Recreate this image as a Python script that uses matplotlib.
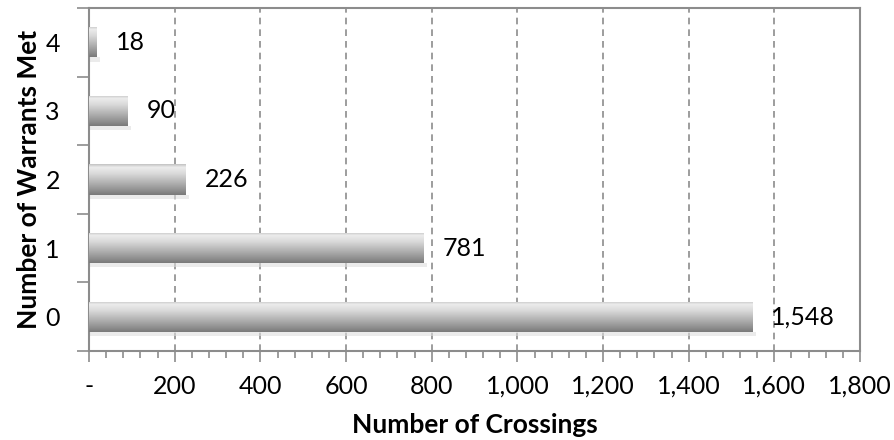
import numpy as np
import matplotlib.pyplot as plt
from matplotlib.colors import LinearSegmentedColormap
from matplotlib.ticker import FuncFormatter, MultipleLocator

plt.rcParams['font.family'] = ['Lato', 'DejaVu Sans']

# data
warrants = ['0', '1', '2', '3', '4']
crossings = [1548, 781, 226, 90, 18]
xticks = [0, 200, 400, 600, 800, 1000, 1200, 1400, 1600, 1800]

fig = plt.figure(figsize=(8.94, 4.4), dpi=100)
ax = fig.add_axes([0.0996, 0.2023, 0.8624, 0.7795])

ypos = np.arange(len(warrants))
bars = ax.barh(ypos, crossings, height=0.44, color='#a8a8a8', edgecolor='none', zorder=3)

# shaded look for each bar: light top, dark bottom
shade = LinearSegmentedColormap.from_list('shade', [
    (0.0, '#c4c4c4'), (0.1, '#ececec'), (0.3, '#dadada'),
    (0.6, '#b2b2b2'), (0.85, '#909090'), (1.0, '#7a7a7a')])
grad = np.linspace(0, 1, 64).reshape(-1, 1)
for b in bars:
    x0, y0, w, h = b.get_x(), b.get_y(), b.get_width(), b.get_height()
    # soft shadow under the bar
    ax.fill_between([x0, x0 + w + 8], y0 - 0.06, y0, color='#dedede', alpha=0.6, zorder=2, lw=0)
    im = ax.imshow(grad, cmap=shade, aspect='auto', extent=[x0, x0 + w, y0, y0 + h],
                   origin='upper', zorder=4)
    im.set_clip_path(b)
    ax.text(x0 + w + 45, y0 + h / 2, f'{w:,.0f}', va='center', ha='left', fontsize=18, zorder=5)

ax.set_xlim(0, 1800)
ax.set_ylim(-0.5, len(warrants) - 0.5)
ax.set_xticks(xticks)
ax.xaxis.set_minor_locator(MultipleLocator(40))
ax.xaxis.set_major_formatter(FuncFormatter(lambda v, p: '-' if v == 0 else f'{v:,.0f}'))

ax.set_yticks(np.arange(-0.5, len(warrants), 1))
ax.set_yticklabels([])
ax.set_yticks(ypos, minor=True)
ax.set_yticklabels(warrants, minor=True)

frame = '#8c8c8c'
for s in ax.spines.values():
    s.set_color(frame)
    s.set_linewidth(1.5)
ax.tick_params(axis='x', which='major', length=8, width=1.2, color=frame, labelsize=18, pad=9)
ax.tick_params(axis='x', which='minor', length=5, width=1.2, color=frame)
ax.tick_params(axis='y', which='major', length=9, width=1.2, color=frame)
ax.tick_params(axis='y', which='minor', length=0, labelsize=18, pad=21)

ax.grid(axis='x', which='major', linestyle=(0, (4, 3)), color='#8c8c8c', linewidth=1.2, zorder=0)
ax.set_axisbelow(True)

ax.set_xlabel('Number of Crossings', fontsize=19, fontweight='bold', labelpad=11)
ax.set_ylabel('Number of Warrants Met', fontsize=19, fontweight='bold', labelpad=3)

fig.savefig('out.png', dpi=100)
